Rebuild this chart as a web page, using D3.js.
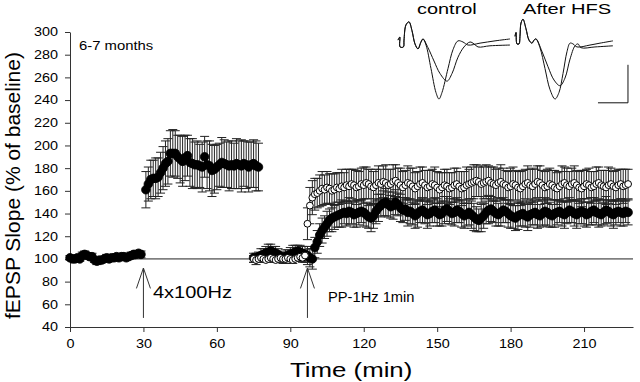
<!DOCTYPE html>
<html>
<head>
<meta charset="utf-8">
<script src="https://cdn.jsdelivr.net/npm/d3@7"></script>
<style>
  html, body { margin: 0; padding: 0; background: #ffffff; }
  svg { display: block; font-family: "Liberation Sans", Arial, sans-serif; }
</style>
</head>
<body>
<div id="chart"></div>
<script>
// ---- data (% of baseline) ----
const xTicks = [0, 30, 60, 90, 120, 150, 180, 210];
const yTicks = [40, 60, 80, 100, 120, 140, 160, 180, 200, 220, 240, 260, 280, 300];

// HFS experiment, filled circles: baseline from t=0, post-tetanus from t=31 (1 point/min)
const hfsBaseStart = 0;
const hfsBase = [101,100,100,101,100,103,104,103,102,102,99,98,99,99,100,101,100,101,101,102,101,102,102,101,102,103,104,104,105,104];
const hfsBaseErr = [2,2,3,2,2,3,3,2,2,3,2,3,2,2,2,3,2,2,3,2,2,2,3,2,2,3,2,3,2,3];
const hfsPostStart = 31;
const hfsPost = [161,166,170,171,171,172,176,180,184,186,193,193,193,190,188,186,189,191,185,184,183,183,182,181,190,183,182,178,179,181,183,185,184,183,182,183,182,184,183,182,184,183,181,183,184,182,181];
const hfsPostErr = [16,15,17,16,18,17,18,19,20,20,20,21,20,19,21,22,20,18,21,22,20,21,19,22,18,21,22,23,21,20,19,22,21,20,22,21,20,22,21,23,20,21,22,20,21,22,21];

// PP-1Hz experiment, from t=75 (1 point/min)
const ppStart = 75;
const ppFilled = [
  101,100,102,103,104,105,106,107,106,105,
  104,102,101,102,103,104,105,106,107,106,
  105,104,103,101,100,110,115,121,125,128,
  131,134,136,137,138,139,140,141,140,142,
  141,139,140,141,142,141,139,137,136,138,
  142,145,147,149,150,148,146,147,150,148,
  145,143,144,141,142,140,138,140,142,143,
  141,139,140,142,143,141,139,140,143,144,
  142,140,141,143,142,140,138,139,141,139,
  137,135,134,136,138,141,143,144,142,140,
  139,141,143,142,140,138,137,136,138,139,
  140,138,137,139,140,141,139,138,140,142,
  141,139,138,140,141,142,140,139,141,143,
  142,140,139,141,142,141,139,140,142,143,
  141,140,139,141,143,142,140,139,141,142,
  141,140,142,141];
const ppFilledErr = [
  4,5,4,6,5,6,7,6,5,6,
  5,4,5,6,5,6,7,6,5,6,
  6,7,8,8,9,9,10,10,11,10,
  11,10,12,11,10,11,12,10,11,12,
  10,11,12,11,10,12,11,10,12,11,
  11,12,10,11,12,11,10,12,11,10,
  12,11,10,12,11,10,11,12,10,11,
  10,12,11,10,11,12,10,11,12,11,
  11,10,12,11,10,12,11,10,11,12,
  12,11,10,12,11,10,12,11,10,11,
  10,12,11,10,12,11,10,11,12,10,
  11,10,12,11,10,11,12,10,11,12,
  12,11,10,12,11,10,11,12,10,11,
  10,11,12,10,11,12,11,10,12,11,
  11,12,10,11,12,10,11,12,11,10,
  12,11,10,11];
const ppOpen = [
  100,99,100,101,100,99,100,101,100,99,
  100,101,100,100,101,100,99,100,101,102,
  101,103,131,147,154,157,158,160,162,161,
  163,162,160,161,163,162,164,163,165,164,
  166,165,163,164,166,165,167,166,164,163,
  165,167,166,168,167,165,166,168,169,167,
  165,163,165,167,166,164,162,164,166,167,
  165,163,164,166,165,163,161,163,165,164,
  162,163,165,166,164,162,163,165,166,167,
  168,169,168,166,167,168,169,167,166,165,
  167,168,166,165,163,164,166,165,163,162,
  164,166,167,165,164,166,168,167,165,163,
  164,166,165,163,162,164,166,167,165,164,
  166,167,165,163,162,164,166,165,163,164,
  166,167,165,164,163,165,166,164,163,165,
  166,164,165,166];
const ppOpenErr = [
  3,2,3,2,3,2,3,2,3,2,
  3,2,3,2,3,2,3,2,3,4,
  4,5,14,16,15,14,13,14,15,13,
  14,13,15,14,13,14,15,13,14,15,
  13,14,15,13,14,16,14,13,15,14,
  14,15,13,14,16,14,13,15,14,13,
  15,14,13,15,14,16,14,13,15,14,
  13,15,14,13,16,14,15,13,14,15,
  14,13,15,14,13,15,14,16,13,14,
  15,14,13,16,14,15,13,14,15,14,
  13,15,14,13,14,16,15,13,14,15,
  14,13,15,14,16,13,14,15,13,14,
  15,14,13,15,14,13,16,14,15,13,
  14,15,13,14,16,14,13,15,14,13,
  15,14,13,14,15,16,14,13,15,14,
  13,15,14,13];

// stimulation arrows (time, min)
const arrowTimes = [30, 97];

// inset fEPSP traces: [ms, mV]
const ctrlTraceA = [[0,0.05],[0.3,0.13],[0.35,-0.13],[0.9,-0.13],[1.0,0.05],[1.33,0.45],[1.83,0.53],[2.33,0.3],[2.83,-0.05],[3.33,-0.18],[3.83,0],[4.17,0.08],[4.67,-0.08],[5.5,-0.7],[6.33,-1.33],[6.83,-1.5],[7.33,-1.33],[8.33,-0.7],[9.17,-0.2],[10,0.03],[10.83,0],[11.67,-0.08],[13.67,-0.03],[16.17,0.03],[18.67,0.08]];
const ctrlTraceB = [[0,0.05],[0.3,0.13],[0.35,-0.13],[0.9,-0.13],[1.0,0.05],[1.33,0.45],[1.83,0.53],[2.33,0.3],[2.83,-0.05],[3.33,-0.18],[3.83,0],[4.17,0.08],[5,-0.15],[6,-0.5],[7,-0.83],[8.17,-1.03],[9,-0.83],[10,-0.4],[11,-0.13],[12,0],[12.67,-0.05],[13.33,-0.13],[15.33,-0.1],[18.67,-0.08]];
const hfsTraceA = [[0,0.15],[0.17,0.25],[0.33,-0.05],[0.67,-0.05],[0.83,0.15],[1,0.5],[1.33,0.6],[1.83,0.35],[2.33,0.05],[2.83,-0.03],[3.17,0.05],[3.5,0.08],[4.17,-0.15],[5,-0.7],[5.83,-1.25],[6.67,-1.5],[7.33,-1.33],[8,-0.83],[8.67,-0.25],[9.17,-0.03],[9.67,-0.05],[10.33,-0.13],[12.5,-0.08],[14.17,-0.03],[16.33,0.03]];
const hfsTraceB = [[0,0.15],[0.17,0.25],[0.33,-0.05],[0.67,-0.05],[0.83,0.15],[1,0.5],[1.33,0.6],[1.83,0.35],[2.33,0.05],[2.83,-0.03],[3.17,0.05],[3.5,0.08],[4.5,-0.25],[5.5,-0.65],[6.5,-1],[7.5,-1.15],[8.33,-0.95],[9.17,-0.45],[10,-0.1],[10.5,-0.05],[11,-0.15],[13.33,-0.13],[16.33,-0.1]];

// ---- chart ----
const width = 640;
const height = 382;
const margin = { top: 32, right: 7, bottom: 55, left: 70 };
const ink = "#111";

const svg = d3.select("#chart").append("svg").attr("width", width).attr("height", height);

const x = d3.scaleLinear().domain([0, 230]).range([margin.left, width - margin.right]);
const y = d3.scaleLinear().domain([40, 300]).range([height - margin.bottom, margin.top]);

function toPoints(start, values, errors) {
  return values.map((v, i) => ({ t: start + i, v, e: errors[i] }));
}

function stretchedText(parent, px, py, str, size, sx, anchor) {
  return parent
    .append("text")
    .attr("transform", `translate(${px},${py}) scale(${sx},1)`)
    .attr("text-anchor", anchor || "start")
    .attr("font-size", size)
    .attr("fill", "#000")
    .text(str);
}

// axes
svg
  .append("g")
  .attr("transform", `translate(0,${y(40)})`)
  .call(d3.axisBottom(x).tickValues(xTicks).tickSize(5).tickSizeOuter(0))
  .call((axis) => axis.select(".domain").attr("stroke", "#333"))
  .call((axis) => axis.selectAll(".tick line").attr("stroke", "#333"))
  .call((axis) =>
    axis
      .selectAll("text")
      .attr("y", 12)
      .attr("font-size", 12)
      .attr("font-family", "Liberation Sans, Arial, sans-serif")
      .attr("fill", "#000")
      .attr("transform", "scale(1.2,1)")
  );

svg
  .append("g")
  .attr("transform", `translate(${x(0)},0)`)
  .call(d3.axisLeft(y).tickValues(yTicks).tickSize(5).tickSizeOuter(0))
  .call((axis) => axis.select(".domain").attr("stroke", "#333"))
  .call((axis) => axis.selectAll(".tick line").attr("stroke", "#333"))
  .call((axis) =>
    axis
      .selectAll("text")
      .attr("x", -10)
      .attr("font-size", 12)
      .attr("font-family", "Liberation Sans, Arial, sans-serif")
      .attr("fill", "#000")
      .attr("transform", "scale(1.2,1)")
  );

// baseline reference at 100 %
svg
  .append("line")
  .attr("x1", x(0))
  .attr("x2", x(230))
  .attr("y1", y(100))
  .attr("y2", y(100))
  .attr("stroke", "#222")
  .attr("stroke-width", 1);

// series
const filledSets = [
  toPoints(hfsBaseStart, hfsBase, hfsBaseErr),
  toPoints(hfsPostStart, hfsPost, hfsPostErr),
  toPoints(ppStart, ppFilled, ppFilledErr),
];
const openSet = toPoints(ppStart, ppOpen, ppOpenErr);
const allFilled = filledSets.flat();
const capHalf = 4.5;

function drawErrorBars(data, cls) {
  const g = svg.append("g").attr("class", cls).attr("stroke", "#222").attr("stroke-width", 1);
  g.selectAll("line.stem")
    .data(data)
    .join("line")
    .attr("class", "stem")
    .attr("x1", (d) => x(d.t))
    .attr("x2", (d) => x(d.t))
    .attr("y1", (d) => y(d.v + d.e))
    .attr("y2", (d) => y(d.v - d.e));
  g.selectAll("line.capTop")
    .data(data)
    .join("line")
    .attr("class", "capTop")
    .attr("x1", (d) => x(d.t) - capHalf)
    .attr("x2", (d) => x(d.t) + capHalf)
    .attr("y1", (d) => y(d.v + d.e))
    .attr("y2", (d) => y(d.v + d.e));
  g.selectAll("line.capBottom")
    .data(data)
    .join("line")
    .attr("class", "capBottom")
    .attr("x1", (d) => x(d.t) - capHalf)
    .attr("x2", (d) => x(d.t) + capHalf)
    .attr("y1", (d) => y(d.v - d.e))
    .attr("y2", (d) => y(d.v - d.e));
}

drawErrorBars(openSet, "open-err");
drawErrorBars(allFilled, "filled-err");

svg
  .append("g")
  .selectAll("circle")
  .data(allFilled)
  .join("circle")
  .attr("cx", (d) => x(d.t))
  .attr("cy", (d) => y(d.v))
  .attr("r", 4.3)
  .attr("fill", "#000")
  .attr("stroke", "#000")
  .attr("stroke-width", 0.8);

svg
  .append("g")
  .selectAll("circle")
  .data(openSet)
  .join("circle")
  .attr("cx", (d) => x(d.t))
  .attr("cy", (d) => y(d.v))
  .attr("r", 3.4)
  .attr("fill", "#fff")
  .attr("stroke", "#000")
  .attr("stroke-width", 1);

// arrows
const arrows = svg.append("g").attr("stroke", "#333").attr("stroke-width", 1).attr("fill", "none");
arrowTimes.forEach((t) => {
  arrows.append("line").attr("x1", x(t)).attr("x2", x(t)).attr("y1", y(48)).attr("y2", y(92));
  arrows
    .append("path")
    .attr("d", d3.line()([[x(t) - 7, y(74)], [x(t), y(92)], [x(t) + 7, y(74)]]));
});

// labels
stretchedText(svg, 79, 50, "6-7 months", 13.5, 1.1);
stretchedText(svg, 153, 298, "4x100Hz", 16, 1.25);
stretchedText(svg, 328, 302, "PP-1Hz 1min", 14, 1.05);
stretchedText(svg, 290, 377, "Time (min)", 21, 1.23);

svg
  .append("text")
  .attr("transform", `translate(20,${(y(40) + y(300)) / 2 + 6}) rotate(-90)`)
  .attr("text-anchor", "middle")
  .attr("font-size", 21)
  .attr("fill", "#000")
  .text("fEPSP Slope (% of baseline)");

// inset traces
const insetY = d3.scaleLinear().domain([-2, 1]).range([42 + 76, 42 - 38]);
const ctrlX = d3.scaleLinear().domain([0, 20]).range([398, 518]);
const hfsX = d3.scaleLinear().domain([0, 20]).range([515, 635]);

function drawTrace(points, sx) {
  svg
    .append("path")
    .attr("fill", "none")
    .attr("stroke", "#111")
    .attr("stroke-width", 1)
    .attr("d", d3.line().x((d) => sx(d[0])).y((d) => insetY(d[1])).curve(d3.curveCatmullRom.alpha(0.5))(points));
}
drawTrace(ctrlTraceA, ctrlX);
drawTrace(ctrlTraceB, ctrlX);
drawTrace(hfsTraceA, hfsX);
drawTrace(hfsTraceB, hfsX);

stretchedText(svg, 417, 14, "control", 15, 1.33);
stretchedText(svg, 523, 14, "After HFS", 15, 1.34);

// scale bar: 5 ms, 1 mV
const barT = 18.83;
const barV = -1.6;
svg
  .append("path")
  .attr("fill", "none")
  .attr("stroke", ink)
  .attr("stroke-width", 1)
  .attr("d", d3.line()([[hfsX(barT - 5), insetY(barV)], [hfsX(barT), insetY(barV)], [hfsX(barT), insetY(barV + 1)]]));
</script>
</body>
</html>
